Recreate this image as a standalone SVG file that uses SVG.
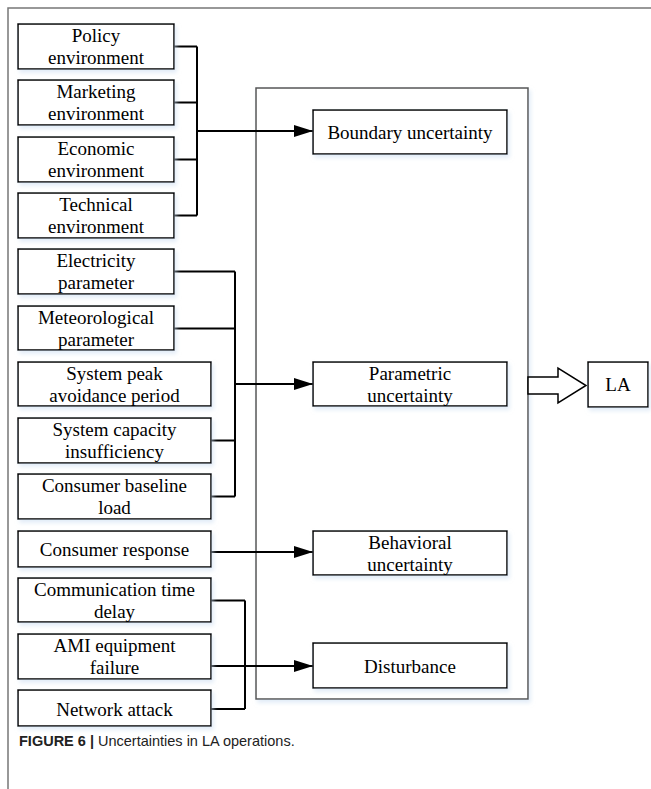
<svg xmlns="http://www.w3.org/2000/svg" width="651" height="789" viewBox="0 0 651 789">
  <defs>
    <filter id="glow" x="-10%" y="-20%" width="120%" height="150%">
      <feDropShadow dx="2" dy="3" stdDeviation="2" flood-color="#c8dcf0" flood-opacity="0.55"/>
    </filter>
    <marker id="head" markerUnits="userSpaceOnUse" markerWidth="20" markerHeight="12" refX="19" refY="6" orient="auto">
      <path d="M0,0 L19,6 L0,12 Z" fill="#000"/>
    </marker>
  </defs>
  <style>
    .box { fill: #fff; stroke: #000; stroke-width: 1.5; filter: url(#glow); }
    .lbl { font-family: "Liberation Serif", "Times New Roman", serif; font-size: 19px; fill: #000; text-anchor: middle; }
    .wire { fill: none; stroke: #000; stroke-width: 2; }
    .cap { font-family: "Liberation Sans", Arial, sans-serif; font-size: 14.5px; fill: #222; }
  </style>

  <rect width="651" height="789" fill="#fff"/>
  <!-- figure frame -->
  <path d="M8,789 V8 H651" fill="none" stroke="#777" stroke-width="1.5"/>

  <!-- container of the uncertainty categories -->
  <g id="container">
    <rect x="256" y="88" width="272" height="611" fill="#fff" stroke="#555" stroke-width="1.5" filter="url(#glow)"/>
  </g>

  <!-- connectors -->
  <g id="connectors">
    <path class="wire" d="M174,46.5 H197 M174,102.5 H197 M174,159.5 H197 M174,215.5 H197 M197,46.5 V215.5"/>
    <path class="wire" d="M197,131 H313" marker-end="url(#head)"/>
    <path class="wire" d="M174,271.5 H235 M174,328.5 H235 M211,440.5 H235 M211,496.5 H235 M235,271.5 V496.5"/>
    <path class="wire" d="M235,384 H313" marker-end="url(#head)"/>
    <path class="wire" d="M211,552 H313" marker-end="url(#head)"/>
    <path class="wire" d="M211,600.5 H245 M211,709 H245 M245,600.5 V709"/>
    <path class="wire" d="M211,666 H313" marker-end="url(#head)"/>
    <polygon points="528,377 558,377 558,368 586,385.5 558,403 558,394 528,394" fill="#fff" stroke="#000" stroke-width="1.5"/>
  </g>

  <!-- external factors -->
  <g id="policy"><rect class="box" x="18" y="24" width="156" height="45"/>
    <text class="lbl" x="96" y="42">Policy</text><text class="lbl" x="96" y="63.5">environment</text></g>
  <g id="marketing"><rect class="box" x="18" y="80" width="156" height="45"/>
    <text class="lbl" x="96" y="98">Marketing</text><text class="lbl" x="96" y="119.5">environment</text></g>
  <g id="economic"><rect class="box" x="18" y="137" width="156" height="45"/>
    <text class="lbl" x="96" y="155">Economic</text><text class="lbl" x="96" y="176.5">environment</text></g>
  <g id="technical"><rect class="box" x="18" y="193" width="156" height="45"/>
    <text class="lbl" x="96" y="211">Technical</text><text class="lbl" x="96" y="232.5">environment</text></g>

  <!-- parameters -->
  <g id="electricity"><rect class="box" x="18" y="249" width="156" height="45"/>
    <text class="lbl" x="96" y="267">Electricity</text><text class="lbl" x="96" y="288.5">parameter</text></g>
  <g id="meteorological"><rect class="box" x="18" y="306" width="156" height="44"/>
    <text class="lbl" x="96" y="324">Meteorological</text><text class="lbl" x="96" y="345.5">parameter</text></g>
  <g id="peak"><rect class="box" x="18" y="362" width="193" height="44"/>
    <text class="lbl" x="114.5" y="380">System peak</text><text class="lbl" x="114.5" y="401.5">avoidance period</text></g>
  <g id="capacity"><rect class="box" x="18" y="418" width="193" height="45"/>
    <text class="lbl" x="114.5" y="436">System capacity</text><text class="lbl" x="114.5" y="457.5">insufficiency</text></g>
  <g id="baseline"><rect class="box" x="18" y="474" width="193" height="45"/>
    <text class="lbl" x="114.5" y="492">Consumer baseline</text><text class="lbl" x="114.5" y="513.5">load</text></g>

  <!-- behaviour and disturbances -->
  <g id="response"><rect class="box" x="18" y="531" width="193" height="36"/>
    <text class="lbl" x="114.5" y="555.5">Consumer response</text></g>
  <g id="delay"><rect class="box" x="18" y="578" width="193" height="44"/>
    <text class="lbl" x="114.5" y="596">Communication time</text><text class="lbl" x="114.5" y="617.5">delay</text></g>
  <g id="ami"><rect class="box" x="18" y="634" width="193" height="45"/>
    <text class="lbl" x="114.5" y="652">AMI equipment</text><text class="lbl" x="114.5" y="673.5">failure</text></g>
  <g id="attack"><rect class="box" x="18" y="690" width="193" height="36"/>
    <text class="lbl" x="114.5" y="715.5">Network attack</text></g>

  <!-- uncertainty categories -->
  <g id="boundary"><rect class="box" x="313" y="110" width="194" height="44"/>
    <text class="lbl" x="410" y="138.5">Boundary uncertainty</text></g>
  <g id="parametric"><rect class="box" x="313" y="362" width="194" height="44"/>
    <text class="lbl" x="410" y="380">Parametric</text><text class="lbl" x="410" y="401.5">uncertainty</text></g>
  <g id="behavioral"><rect class="box" x="313" y="531" width="194" height="44"/>
    <text class="lbl" x="410" y="549">Behavioral</text><text class="lbl" x="410" y="570.5">uncertainty</text></g>
  <g id="disturbance"><rect class="box" x="313" y="643" width="194" height="45"/>
    <text class="lbl" x="410" y="672.5">Disturbance</text></g>

  <g id="la"><rect class="box" x="588" y="362" width="60" height="45"/>
    <text class="lbl" x="618" y="391">LA</text></g>

  <!-- caption -->
  <text class="cap" x="19" y="746"><tspan font-weight="bold">FIGURE 6 |</tspan> Uncertainties in LA operations.</text>
</svg>
